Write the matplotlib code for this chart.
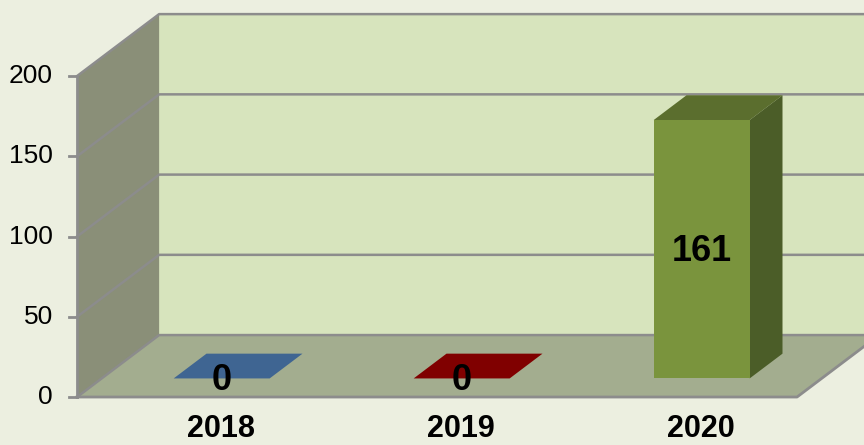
import matplotlib.pyplot as plt
from matplotlib.patches import Polygon

# Data
years = ['2018', '2019', '2020']
counts = [0, 0, 161]
bar_colors = ['#3F6592', '#800000', '#7A943D']
top_colors = ['#3F6592', '#800000', '#5B6E2E']
side_colors = ['#3F6592', '#800000', '#4B5D28']
y_ticks = [0, 50, 100, 150, 200]

# 3D look: oblique projection, depth 1 shifts by (kx, ky) in data units
kx, ky = 0.342, 38.6
ymax = 200
n = len(years)

def proj(x, v, d):
    return (x + d * kx, v + d * ky)

fig = plt.figure(figsize=(8.64, 4.45), dpi=100)
fig.patch.set_facecolor('#ECEFE0')
ax = fig.add_axes([0, 0, 1, 1])
ax.set_xlim(-0.321, 3.279)
ax.set_ylim(-29.9, 247.4)
ax.axis('off')

grid = '#8C8C8C'

# back wall
back = [proj(0, 0, 1), proj(n + 1, 0, 1), proj(n + 1, ymax, 1), proj(0, ymax, 1)]
ax.add_patch(Polygon(back, closed=True, fc='#D7E4BD', ec='none', zorder=1))
# side wall
side = [proj(0, 0, 0), proj(0, 0, 1), proj(0, ymax, 1), proj(0, ymax, 0)]
ax.add_patch(Polygon(side, closed=True, fc='#8A8F78', ec='none', zorder=1))
# floor
floor = [proj(0, 0, 0), proj(n, 0, 0), proj(n, 0, 1), proj(0, 0, 1)]
ax.add_patch(Polygon(floor, closed=True, fc='#A3AD8F', ec='none', zorder=1))

# gridlines on walls
for t in y_ticks:
    x0, y0 = proj(0, t, 0)
    x1, y1 = proj(0, t, 1)
    x2, y2 = proj(n + 1, t, 1)
    ax.plot([x0, x1, x2], [y0, y1, y2], color=grid, lw=1.8, zorder=2)

# floor edges and front axis line
fx = [proj(0, 0, 0), proj(n, 0, 0), proj(n, 0, 1), proj(n + 1, 0, 1)]
ax.plot([p[0] for p in fx], [p[1] for p in fx], color=grid, lw=2, zorder=2)
ax.plot([0, 0], [0, ymax], color=grid, lw=2, zorder=2)

# y ticks and labels
for t in y_ticks:
    ax.plot([-0.033, 0], [t, t], color=grid, lw=2, zorder=2)
    ax.text(-0.1, t, str(t), ha='right', va='center', fontsize=19,
            family='Liberation Sans', color='black')

# bars
w0, w1 = 0.3, 0.7
d0, d1 = 0.3, 0.7
for i, v in enumerate(counts):
    xl, xr = i + w0, i + w1
    top = [proj(xl, v, d0), proj(xr, v, d0), proj(xr, v, d1), proj(xl, v, d1)]
    ax.add_patch(Polygon(top, closed=True, fc=top_colors[i], ec='none', zorder=3))
    if v > 0:
        sd = [proj(xr, 0, d0), proj(xr, 0, d1), proj(xr, v, d1), proj(xr, v, d0)]
        ax.add_patch(Polygon(sd, closed=True, fc=side_colors[i], ec='none', zorder=3))
        fr = [proj(xl, 0, d0), proj(xr, 0, d0), proj(xr, v, d0), proj(xl, v, d0)]
        ax.add_patch(Polygon(fr, closed=True, fc=bar_colors[i], ec='none', zorder=4))
    lx, ly = proj(i + 0.5, v / 2, d0)
    ax.text(lx, ly - 1.5, str(v), ha='center', va='center', fontsize=26,
            fontweight='bold', family='Liberation Sans', color='black', zorder=5)

# category labels
for i, yr in enumerate(years):
    ax.text(i + 0.6, -29.2, yr, ha='center', va='bottom', fontsize=22,
            fontweight='bold', family='Liberation Sans', color='black')

fig.savefig('out.png', dpi=100, facecolor=fig.get_facecolor())
